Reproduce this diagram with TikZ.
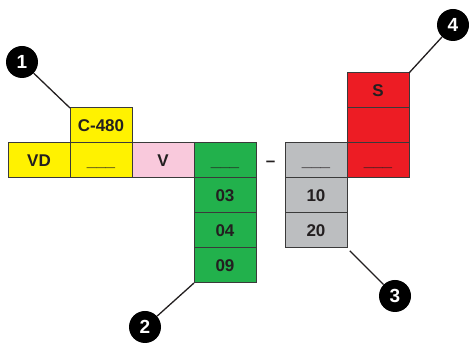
\documentclass[tikz,border=0pt]{standalone}
\usepackage{fontspec}
\setmainfont{Liberation Sans}
\usetikzlibrary{positioning}
\definecolor{yel}{HTML}{FFF200}
\definecolor{pnk}{HTML}{F9C9DC}
\definecolor{grn}{HTML}{22B14C}
\definecolor{gry}{HTML}{BCBEC0}
\definecolor{rd}{HTML}{ED1C24}
\definecolor{ink}{HTML}{231F20}
\definecolor{edge}{HTML}{3A3A3A}

\begin{document}
\begin{tikzpicture}[
  x=1pt,y=-1pt,
  node distance=0pt and 0pt,
  cell/.style={draw=edge,line width=1pt,minimum width=62pt,minimum height=35pt,
    inner sep=0pt,outer sep=0pt,text height=12pt,text depth=0pt,text=ink,
    font=\bfseries\fontsize{17}{17}\selectfont},
  callout/.style={circle,fill=black,text=white,minimum size=32pt,inner sep=0pt,
    font=\bfseries\fontsize{19}{19}\selectfont},
  pointer/.style={draw=ink,line width=1.3pt}
]
\useasboundingbox (0,0) rectangle (469,344);
% main row
\node[cell,fill=yel] (vd) at (39,160.5) {VD};
\node[cell,fill=yel,right=of vd] (yblank) {\_\_\_};
\node[cell,fill=yel,above=of yblank] (c480) {C-480};
\node[cell,fill=pnk,right=of yblank] (v) {V};
\node[cell,fill=grn,right=of v] (gblank) {\_\_\_};
\node[cell,fill=grn,below=of gblank] (g03) {03};
\node[cell,fill=grn,below=of g03] (g04) {04};
\node[cell,fill=grn,below=of g04] (g09) {09};
\node[cell,draw=none,minimum width=29pt,right=of gblank] (dash) {\textendash};
\node[cell,fill=gry,right=of dash] (sblank) {\_\_\_};
\node[cell,fill=gry,below=of sblank] (s10) {10};
\node[cell,fill=gry,below=of s10] (s20) {20};
\node[cell,fill=rd,right=of sblank] (rblank) {\_\_\_};
\node[cell,fill=rd,above=of rblank] (rmid) {};
\node[cell,fill=rd,above=of rmid] (rs) {S};
% callouts
\node[callout] (n1) at (22,62) {1};
\node[callout] (n2) at (145,327) {2};
\node[callout] (n3) at (395,296) {3};
\node[callout] (n4) at (453,25) {4};
\draw[pointer] (c480.north west) -- (n1);
\draw[pointer] (g09.south west) -- (n2);
\draw[pointer,shorten <=4pt] (s20.south east) -- (n3);
\draw[pointer] (rs.north east) -- (n4);
\end{tikzpicture}
\end{document}
